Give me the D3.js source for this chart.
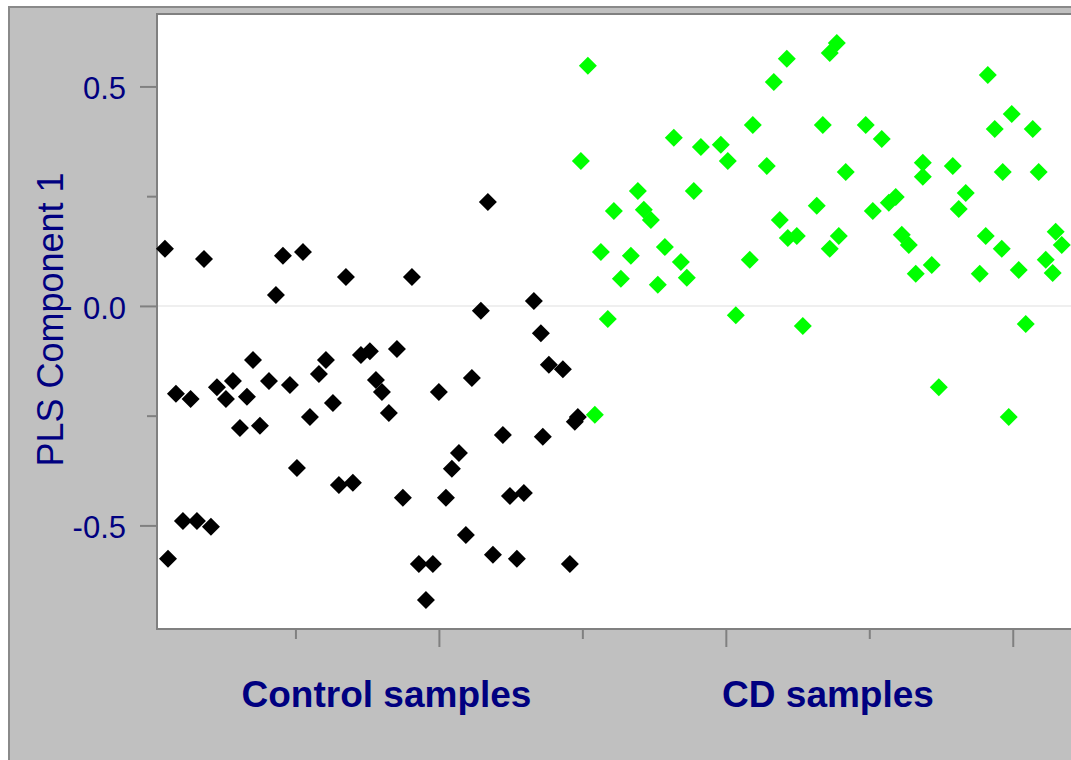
<!DOCTYPE html>
<html>
<head>
<meta charset="utf-8">
<script src="https://cdn.jsdelivr.net/npm/d3@7"></script>
<style>
  html, body { margin: 0; padding: 0; background: #ffffff; }
  svg { display: block; }
  text { font-family: "Liberation Sans", Arial, Helvetica, sans-serif; }
</style>
</head>
<body>
<svg id="chart" width="1071" height="760"></svg>
<script>
// PLS component 1 scores, control samples
const controlX = [1.81, 2.23, 3.34, 4.32, 5.39, 6.27, 7.25, 8.22, 9.06, 10.31,
  11.29, 12.26, 13.24, 14.08, 15.05, 16.31, 17.28, 18.26, 19.23, 20.21,
  21.05, 22.02, 23.28, 24.25, 25.23, 26.06, 27.04, 28.01, 29.13, 30.38,
  31.22, 32.06, 33.03, 34.15, 34.98, 36.24, 37.21, 38.19, 39.16, 40.00,
  40.98, 41.81, 42.79, 43.76, 44.60, 45.85, 46.83, 47.53, 48.92, 49.90,
  50.87, 51.85, 53.24, 54.22, 54.49, 55.33, 57.28, 58.26, 58.95, 59.37];
const controlY = [0.130, -0.576, -0.200, -0.490, -0.212, -0.490, 0.107, -0.503, -0.185, -0.212,
  -0.171, -0.278, -0.207, -0.123, -0.273, -0.171, 0.025, 0.114, -0.180, -0.369,
  0.123, -0.253, -0.155, -0.123, -0.221, -0.408, 0.066, -0.403, -0.112, -0.103,
  -0.169, -0.196, -0.244, -0.098, -0.437, 0.066, -0.588, -0.670, -0.588, -0.196,
  -0.437, -0.371, -0.335, -0.522, -0.164, -0.011, 0.237, -0.567, -0.294, -0.433,
  -0.576, -0.426, 0.011, -0.062, -0.298, -0.134, -0.144, -0.588, -0.264, -0.253];

// PLS component 1 scores, CD samples
const cdX = [59.79, 60.77, 61.74, 62.58, 63.55, 64.39, 65.37, 66.76, 67.74, 68.57,
  69.55, 70.52, 71.50, 72.75, 73.73, 74.56, 75.54, 76.52, 79.30, 80.28,
  81.39, 83.34, 83.76, 85.71, 86.69, 87.53, 88.50, 88.64, 89.90, 90.73,
  92.68, 93.52, 94.49, 95.47, 94.49, 95.75, 96.72, 99.51, 100.49, 101.74,
  102.72, 103.69, 104.53, 105.51, 106.48, 107.46, 107.46, 108.71, 109.69, 111.64,
  112.47, 113.45, 115.40, 116.24, 116.52, 117.49, 118.47, 118.61, 119.44, 119.86,
  120.84, 121.81, 122.79, 123.62, 124.60, 125.57, 125.99, 126.83];
const cdY = [0.330, 0.547, -0.248, 0.123, -0.030, 0.216, 0.062, 0.114, 0.262, 0.219,
  0.196, 0.048, 0.134, 0.383, 0.100, 0.064, 0.262, 0.362, 0.367, 0.330,
  -0.021, 0.105, 0.412, 0.319, 0.510, 0.196, 0.563, 0.155, 0.159, -0.046,
  0.228, 0.412, 0.576, 0.599, 0.130, 0.159, 0.305, 0.412, 0.216, 0.380,
  0.235, 0.248, 0.162, 0.139, 0.073, 0.326, 0.294, 0.093, -0.185, 0.319,
  0.221, 0.257, 0.073, 0.159, 0.526, 0.403, 0.130, 0.305, -0.253, 0.437,
  0.082, -0.041, 0.403, 0.305, 0.105, 0.075, 0.169, 0.139];

// Axis ticks
const yMajorTicks = [-0.5, 0.0, 0.5];
const yMinorTicks = [-0.25, 0.25];
const xMajorTicks = [40, 80, 120];
const xMinorTicks = [20, 60, 100];
const groupLabels = ["Control samples", "CD samples"];
const yAxisTitle = "PLS Component 1";

const AXIS = "#808080";
const NAVY = "#000080";

const svg = d3.select("#chart");

// Frame: white margin, gray panel with a darker outline
svg.append("rect").attr("x", 0).attr("y", 0).attr("width", 1071).attr("height", 760).attr("fill", "#ffffff");
svg.append("rect").attr("x", 9).attr("y", 7).attr("width", 1100).attr("height", 800)
  .attr("fill", "#c0c0c0").attr("stroke", "#8a8a8a").attr("stroke-width", 2);

const plot = { left: 157, top: 14, bottom: 629, right: 1106 };

const x = d3.scaleLinear().domain([0.7, 133]).range([plot.left, plot.right]);
const y = d3.scaleLinear().domain([-0.736, 0.665]).range([plot.bottom, plot.top]);

// Plot area
svg.append("rect").attr("x", plot.left).attr("y", plot.top)
  .attr("width", plot.right - plot.left).attr("height", plot.bottom - plot.top)
  .attr("fill", "#ffffff").attr("stroke", AXIS).attr("stroke-width", 2);

// Zero reference line
svg.append("line").attr("x1", plot.left + 1).attr("x2", plot.right).attr("y1", y(0)).attr("y2", y(0))
  .attr("stroke", "#efefef").attr("stroke-width", 2);

const fmt = v => v.toFixed(1);

// Y axis: labelled major ticks, short unlabelled minor ticks
const yAxis = d3.axisLeft(y).tickValues(yMajorTicks).tickSize(17).tickPadding(14).tickFormat(fmt);
const gy = svg.append("g").attr("transform", `translate(${plot.left},0)`).call(yAxis);
gy.select(".domain").remove();
gy.selectAll(".tick line").attr("stroke", AXIS).attr("stroke-width", 2);
gy.selectAll(".tick text").attr("fill", NAVY).attr("font-size", 31)
  .attr("font-family", "'Liberation Sans', Arial, sans-serif").attr("dy", "0.40em");

const yAxisMinor = d3.axisLeft(y).tickValues(yMinorTicks).tickSize(10).tickFormat("");
const gy2 = svg.append("g").attr("transform", `translate(${plot.left},0)`).call(yAxisMinor);
gy2.select(".domain").remove();
gy2.selectAll(".tick line").attr("stroke", AXIS).attr("stroke-width", 2);

// X axis ticks (no labels)
const xAxis = d3.axisBottom(x).tickValues(xMajorTicks).tickSize(18).tickFormat("");
const gx = svg.append("g").attr("transform", `translate(0,${plot.bottom})`).call(xAxis);
gx.select(".domain").remove();
gx.selectAll(".tick line").attr("stroke", AXIS).attr("stroke-width", 2);

const xAxisMinor = d3.axisBottom(x).tickValues(xMinorTicks).tickSize(10).tickFormat("");
const gx2 = svg.append("g").attr("transform", `translate(0,${plot.bottom})`).call(xAxisMinor);
gx2.select(".domain").remove();
gx2.selectAll(".tick line").attr("stroke", AXIS).attr("stroke-width", 2);

// Axis lines
svg.append("line").attr("x1", plot.left).attr("x2", plot.left).attr("y1", plot.top - 1).attr("y2", plot.bottom + 1)
  .attr("stroke", AXIS).attr("stroke-width", 2);
svg.append("line").attr("x1", plot.left - 1).attr("x2", plot.right).attr("y1", plot.bottom).attr("y2", plot.bottom)
  .attr("stroke", AXIS).attr("stroke-width", 2);

// Diamond markers
const diamond = d3.symbol().type(d3.symbolSquare).size(162);
function drawSeries(xs, ys, color) {
  const pts = xs.map((v, i) => ({ x: v, y: ys[i] }));
  svg.append("g").selectAll("path").data(pts).join("path")
    .attr("d", diamond)
    .attr("transform", d => `translate(${x(d.x)},${y(d.y)}) rotate(45)`)
    .attr("fill", color);
}
drawSeries(controlX, controlY, "#000000");
drawSeries(cdX, cdY, "#00ff00");

// Group labels under the axis
svg.append("text").attr("x", 386.5).attr("y", 707).attr("text-anchor", "middle")
  .attr("font-size", 37).attr("font-weight", "bold").attr("fill", NAVY).text(groupLabels[0]);
svg.append("text").attr("x", 828).attr("y", 707).attr("text-anchor", "middle")
  .attr("font-size", 37).attr("font-weight", "bold").attr("fill", NAVY).text(groupLabels[1]);

// Y axis title
svg.append("text").attr("transform", "translate(63,319.5) rotate(-90)").attr("text-anchor", "middle")
  .attr("font-size", 36).attr("fill", NAVY).text(yAxisTitle);
</script>
</body>
</html>
